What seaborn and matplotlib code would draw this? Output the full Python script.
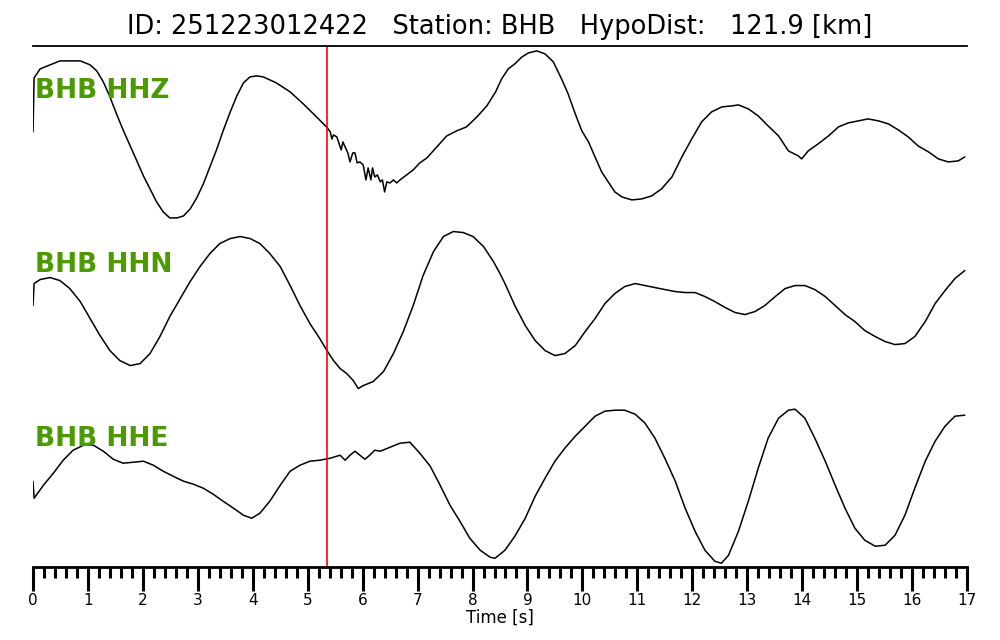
import numpy as np
import pandas as pd
import matplotlib
matplotlib.use("Agg")
import matplotlib.pyplot as plt
import seaborn as sns
from matplotlib.ticker import MultipleLocator

# event info
event_id = "251223012422"
station = "BHB"
hypo_dist = 121.9
pick_time = 5.35
channels = ["HHZ", "HHN", "HHE"]

# HHZ trace (time [s], amplitude [counts, arbitrary])
hhz_t = [0.00, 0.02, 0.13, 0.31, 0.49, 0.67, 0.86, 1.04, 1.16, 1.28, 1.40, 1.52, 1.64, 1.77,
         1.89, 2.01, 2.13, 2.25, 2.37, 2.49, 2.62, 2.74, 2.86, 2.98, 3.10, 3.22, 3.34, 3.46,
         3.59, 3.71, 3.83, 3.95, 4.07, 4.19, 4.43, 4.68, 4.92, 5.16, 5.36, 5.41, 5.44, 5.47,
         5.53, 5.58, 5.61, 5.64, 5.68, 5.73, 5.77, 5.82, 5.86, 5.90, 5.95, 6.01, 6.06, 6.10,
         6.15, 6.18, 6.22, 6.27, 6.32, 6.36, 6.40, 6.44, 6.50, 6.56, 6.62, 6.68, 6.80, 6.92,
         7.04, 7.17, 7.35, 7.53, 7.71, 7.89, 8.08, 8.26, 8.42, 8.53, 8.65, 8.77, 8.90, 9.02,
         9.17, 9.32, 9.47, 9.62, 9.74, 9.87, 9.99, 10.11, 10.23, 10.35, 10.47, 10.59, 10.72,
         10.90, 11.08, 11.26, 11.44, 11.63, 11.81, 11.99, 12.17, 12.35, 12.54, 12.72, 12.84,
         13.02, 13.20, 13.38, 13.57, 13.75, 13.93, 13.99, 14.11, 14.29, 14.48, 14.66, 14.84,
         15.02, 15.20, 15.39, 15.57, 15.75, 15.93, 16.11, 16.30, 16.48, 16.66, 16.84, 16.96]
hhz_amp = [1, 55, 64, 68, 72, 72, 72, 68, 62, 51, 36, 19, 3, -13,
           -28, -43, -56, -69, -79, -85, -85, -83, -76, -65, -51, -34, -17, 2,
           21, 37, 50, 56, 57, 56, 50, 41, 29, 16, 5, 1, -6, -2,
           -4, -12, -17, -9, -14, -20, -29, -20, -20, -30, -29, -32, -47, -35,
           -47, -35, -44, -42, -49, -47, -59, -49, -50, -47, -50, -47, -42, -37,
           -30, -25, -14, -3, 2, 6, 16, 27, 41, 54, 64, 69, 76, 80,
           82, 79, 71, 54, 39, 19, 2, -9, -24, -39, -49, -59, -64,
           -67, -66, -63, -56, -44, -24, -6, 11, 21, 26, 27, 28,
           24, 17, 7, -3, -18, -23, -26, -18, -11, -3, 6, 10,
           12, 14, 12, 9, 3, -4, -13, -19, -26, -29, -28, -24]

# HHN trace
hhn_t = [0.00, 0.02, 0.13, 0.31, 0.49, 0.67, 0.86, 1.04, 1.22, 1.40, 1.58, 1.77, 1.95, 2.13,
         2.31, 2.49, 2.68, 2.86, 3.04, 3.22, 3.40, 3.59, 3.77, 3.95, 4.13, 4.31, 4.50, 4.68,
         4.86, 5.04, 5.22, 5.35, 5.47, 5.59, 5.71, 5.83, 5.92, 6.01, 6.19, 6.38, 6.56, 6.74,
         6.92, 7.10, 7.29, 7.47, 7.65, 7.83, 8.01, 8.20, 8.38, 8.50, 8.59, 8.77, 8.96, 9.14,
         9.32, 9.50, 9.68, 9.87, 10.05, 10.23, 10.41, 10.59, 10.77, 10.96, 11.14, 11.32, 11.50,
         11.69, 11.87, 12.05, 12.23, 12.41, 12.60, 12.78, 12.96, 13.14, 13.32, 13.51, 13.69,
         13.87, 14.05, 14.23, 14.42, 14.60, 14.78, 14.96, 15.14, 15.33, 15.51, 15.69, 15.87,
         16.05, 16.24, 16.42, 16.60, 16.78, 16.96]
hhn_amp = [1, 23, 27, 29, 26, 18, 5, -12, -29, -44, -54, -59, -57, -47,
           -30, -10, 8, 25, 40, 53, 63, 68, 70, 68, 63, 53, 40, 21,
           1, -17, -32, -44, -54, -62, -67, -74, -82, -79, -75, -65, -47, -25,
           1, 31, 55, 70, 75, 74, 70, 60, 45, 33, 23, 1, -19, -34,
           -44, -49, -47, -39, -25, -12, 3, 13, 20, 23, 21, 19, 17,
           15, 14, 14, 10, 5, -1, -6, -8, -5, 1, 10, 18,
           21, 21, 17, 10, 1, -8, -15, -24, -30, -35, -38, -37,
           -30, -15, 3, 16, 28, 36]

# HHE trace
hhe_t = [0.00, 0.02, 0.19, 0.37, 0.55, 0.73, 0.92, 1.10, 1.28, 1.46, 1.64, 1.83, 2.01, 2.19,
         2.37, 2.55, 2.74, 2.92, 3.10, 3.28, 3.46, 3.65, 3.83, 3.98, 4.13, 4.31, 4.50, 4.68,
         4.86, 5.04, 5.22, 5.41, 5.59, 5.68, 5.77, 5.86, 5.95, 6.04, 6.13, 6.22, 6.32, 6.50,
         6.68, 6.86, 7.04, 7.23, 7.41, 7.59, 7.77, 7.95, 8.14, 8.32, 8.41, 8.59, 8.77, 8.96,
         9.14, 9.32, 9.50, 9.68, 9.87, 10.05, 10.23, 10.41, 10.59, 10.77, 10.96, 11.14, 11.32,
         11.50, 11.69, 11.87, 12.05, 12.23, 12.41, 12.53, 12.66, 12.84, 13.02, 13.20, 13.38,
         13.57, 13.75, 13.87, 14.05, 14.23, 14.42, 14.60, 14.78, 14.96, 15.14, 15.33, 15.51,
         15.69, 15.87, 16.05, 16.24, 16.42, 16.60, 16.78, 16.96]
hhe_amp = [-1, -18, -5, 7, 20, 30, 35, 35, 29, 21, 17, 18, 19, 15,
           9, 4, -1, -4, -8, -14, -21, -28, -35, -38, -33, -21, -5, 9,
           15, 19, 20, 22, 25, 20, 25, 29, 25, 21, 25, 30, 29, 33,
           37, 38, 27, 14, -5, -25, -41, -58, -70, -77, -78, -70, -56, -38,
           -16, 2, 19, 32, 44, 54, 64, 69, 70, 70, 66, 57, 42,
           22, -1, -28, -51, -70, -81, -83, -75, -51, -21, 12, 42,
           62, 70, 71, 62, 42, 19, -5, -28, -48, -60, -66, -65,
           -55, -35, -8, 19, 39, 54, 64, 65]

gain = 86.8          # counts per trace half-height
offsets = [0, -2, -4]

frames = []
for ch, t, a, off in zip(channels, [hhz_t, hhn_t, hhe_t], [hhz_amp, hhn_amp, hhe_amp], offsets):
    frames.append(pd.DataFrame({"Time": t, "y": np.array(a) / gain + off, "channel": ch}))
df = pd.concat(frames, ignore_index=True)

sns.set_style("white")
plt.rcParams["font.family"] = ["DejaVu Sans"]
plt.rcParams["text.color"] = "black"
plt.rcParams["axes.labelcolor"] = "black"
plt.rcParams["xtick.color"] = "black"
plt.rcParams["axes.edgecolor"] = "black"

fig = plt.figure(figsize=(10, 6.4), dpi=100)
ax = fig.add_axes([0.033, 0.114, 0.934, 0.814])

sns.lineplot(data=df, x="Time", y="y", units="channel", estimator=None,
             color="black", lw=1.1, ax=ax)
ax.axvline(pick_time, color="red", lw=1.2)

for ch, off in zip(channels, offsets):
    ax.text(0.03, off + 0.48, f"{station} {ch}", color="#4a9a00", fontsize=19,
            fontweight="bold", ha="left", va="center")

ax.set_xlim(0, 17)
ax.set_ylim(-5.0, 1.0)
ax.set_yticks([])
ax.set_ylabel("")
ax.xaxis.set_major_locator(MultipleLocator(1))
ax.xaxis.set_minor_locator(MultipleLocator(0.2))
ax.tick_params(axis="x", which="major", length=17, width=2.2, labelsize=11, pad=2,
               direction="out", bottom=True, colors="black")
ax.tick_params(axis="x", which="minor", length=8, width=2.2, direction="out", bottom=True,
               colors="black")
ax.set_xlabel("Time [s]", fontsize=12, labelpad=0)

for side in ["left", "right"]:
    ax.spines[side].set_visible(False)
ax.spines["top"].set_linewidth(1.3)
ax.spines["bottom"].set_linewidth(2)

fig.text(0.5, 0.958, f"ID: {event_id}   Station: {station}   HypoDist:   {hypo_dist} [km]",
         ha="center", va="center", fontsize=18.5, color="black")

fig.savefig("out.png", dpi=100)
